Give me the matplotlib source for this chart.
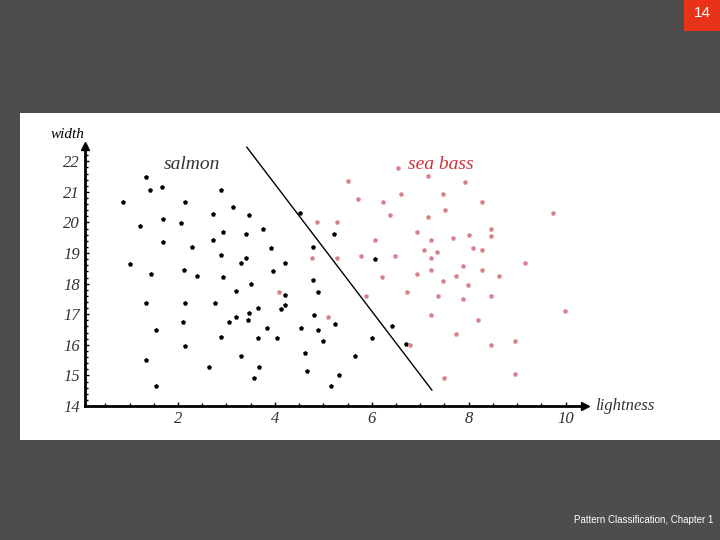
import matplotlib
matplotlib.use("Agg")
import matplotlib.pyplot as plt
from matplotlib.patches import Rectangle
from matplotlib.ticker import MultipleLocator

# salmon (black) points: lightness, width
salmon_x = [1.33, 1.42, 1.66, 2.89, 0.87, 2.15, 3.13, 2.72, 3.46, 1.69, 1.21, 2.07, 2.93, 3.40,
            3.75, 1.69, 2.72, 2.29, 3.92, 2.89, 3.31, 3.40, 1.01, 2.12, 1.45, 2.39, 2.93, 3.97,
            4.21, 3.19, 3.50, 1.33, 2.15, 2.76, 3.46, 3.65, 4.21, 4.13, 4.21, 3.19, 3.05, 3.44,
            2.11, 1.54, 2.89, 3.83, 3.65, 4.04, 2.15, 3.31, 1.33, 2.63, 3.67, 3.57, 1.54, 4.51,
            4.79, 4.79, 4.88, 4.81, 4.54, 4.88, 4.99, 4.63, 4.67, 5.16, 5.33, 5.25, 5.22, 5.66,
            6.07, 6.00, 6.41, 6.70]
salmon_y = [21.49, 21.06, 21.15, 21.06, 20.66, 20.66, 20.51, 20.27, 20.24, 20.10, 19.89, 19.99,
            19.69, 19.61, 19.80, 19.36, 19.44, 19.20, 19.17, 18.95, 18.69, 18.84, 18.64, 18.46,
            18.32, 18.25, 18.22, 18.41, 18.67, 17.76, 17.99, 17.37, 17.37, 17.37, 17.04, 17.20,
            17.30, 17.17, 17.62, 16.91, 16.75, 16.82, 16.75, 16.48, 16.26, 16.54, 16.23, 16.23,
            15.96, 15.62, 15.51, 15.28, 15.27, 14.92, 14.66, 20.31, 19.20, 18.12, 17.73, 16.98,
            16.54, 16.48, 16.14, 15.74, 15.15, 14.66, 15.01, 16.68, 19.63, 15.62, 18.80, 16.23,
            16.62, 16.03]

# sea bass (pink) points
bass_x = [5.50, 5.71, 4.86, 5.29, 4.76, 5.29, 4.09, 5.09, 6.53, 7.15, 7.92, 6.24, 6.61, 7.46,
          8.28, 7.52, 6.37, 7.15, 9.74, 6.94, 6.07, 7.22, 7.68, 8.00, 8.47, 8.47, 7.08, 7.35,
          8.09, 8.27, 5.78, 6.48, 7.22, 7.89, 8.27, 7.22, 6.94, 6.20, 7.74, 8.62, 9.17, 7.46,
          7.98, 6.73, 5.88, 7.37, 7.89, 8.47, 9.98, 7.22, 8.19, 7.74, 6.78, 8.47, 8.96, 7.48,
          8.96]
bass_y = [21.35, 20.77, 20.02, 20.02, 18.84, 18.84, 17.73, 16.91, 21.79, 21.53, 21.32, 20.66,
          20.92, 20.92, 20.66, 20.42, 20.24, 20.17, 20.31, 19.69, 19.42, 19.42, 19.49, 19.60,
          19.80, 19.56, 19.10, 19.02, 19.17, 19.10, 18.91, 18.91, 18.83, 18.57, 18.46, 18.43,
          18.32, 18.22, 18.25, 18.25, 18.69, 18.09, 17.95, 17.73, 17.59, 17.59, 17.51, 17.59,
          17.10, 16.98, 16.82, 16.35, 16.00, 16.00, 16.11, 14.92, 15.04]

# decision boundary end points
line_x = [3.42, 7.24]
line_y = [22.46, 14.52]

PINK = "#d98088"

fig = plt.figure(figsize=(7.2, 5.4), dpi=100, facecolor="#4d4d4d")

# slide background pieces
bg = fig.add_axes([0, 0, 1, 1], zorder=0)
bg.set_xlim(0, 720)
bg.set_ylim(0, 540)
bg.axis("off")
bg.add_patch(Rectangle((20, 100), 700, 327, facecolor="white"))
bg.add_patch(Rectangle((684, 509), 36, 31, facecolor="#e8331a"))
bg.text(702, 527, "14", color="white", ha="center", va="center", fontsize=11,
        family="Liberation Sans")
bg.text(713, 20, "Pattern Classification, Chapter 1", color="white",
        ha="right", va="center", fontsize=7, family="Liberation Sans")

ax = fig.add_axes([85 / 720, 134 / 540, 500 / 720, 260 / 540], zorder=1)
ax.patch.set_alpha(0)
ax.set_xlim(0.08, 10.4)
ax.set_ylim(14, 22.5)
ax.scatter(salmon_x, salmon_y, s=14, c="black", marker="p", linewidths=0)
ax.scatter(bass_x, bass_y, s=14, c=PINK, marker="p", linewidths=0)
ax.plot(line_x, line_y, color="black", lw=1)

for s in ["top", "right"]:
    ax.spines[s].set_visible(False)
ax.spines["left"].set_linewidth(2)
ax.spines["bottom"].set_linewidth(2)
ax.plot(1, 0, ">k", ms=6, transform=ax.transAxes, clip_on=False)
ax.plot(0, 1, "^k", ms=6, transform=ax.transAxes, clip_on=False)

ax.xaxis.set_major_locator(MultipleLocator(2))
ax.xaxis.set_minor_locator(MultipleLocator(0.5))
ax.yaxis.set_major_locator(MultipleLocator(1))
ax.yaxis.set_minor_locator(MultipleLocator(0.2))
ax.tick_params(which="both", direction="in", length=3, width=1)
ax.tick_params(which="minor", length=2)
ax.set_xticks([2, 4, 6, 8, 10])
for lab in ax.get_xticklabels() + ax.get_yticklabels():
    lab.set_fontfamily("Liberation Serif")
    lab.set_fontstyle("italic")
    lab.set_fontsize(12)
    lab.set_color("#333333")

ax.text(0.0, 1.02, "width", transform=ax.transAxes, ha="right", va="bottom",
        family="Liberation Serif", style="italic", fontsize=11)
ax.text(1.02, 0.0, "lightness", transform=ax.transAxes, ha="left", va="center",
        family="Liberation Serif", style="italic", fontsize=12, color="#333333")
ax.text(1.7, 21.9, "salmon", family="Liberation Serif", style="italic", fontsize=14,
        color="#333333", va="center")
ax.text(6.75, 21.9, "sea bass", family="Liberation Serif", style="italic", fontsize=14,
        color="#d0303a", va="center")

fig.savefig("out.png", dpi=100, facecolor=fig.get_facecolor())
